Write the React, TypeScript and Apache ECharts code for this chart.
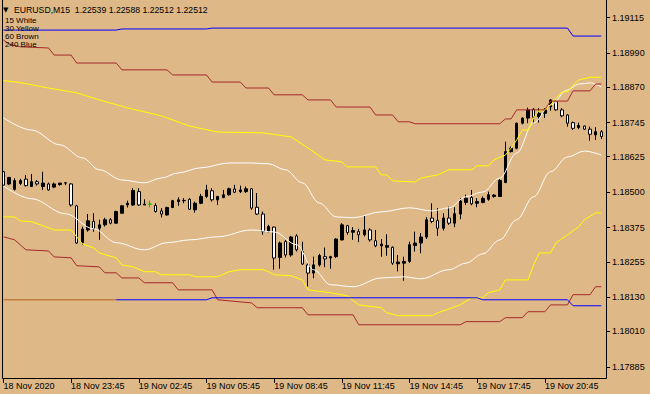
import React, { useEffect, useRef } from "react";
import * as echarts from "echarts";

// ---- candle data (EURUSD M15), index 0 = 18 Nov 20:45 ----
const opens = [
  1.18572, 1.18529, 1.18510, 1.18531, 1.18546, 1.18520, 1.18537, 1.18520, 1.18529, 1.18518,
  1.18527, 1.18532, 1.18529, 1.18452, 1.18323, 1.18367, 1.18397, 1.18373, 1.18385, 1.18403,
  1.18391, 1.18426, 1.18455, 1.18455, 1.18502, 1.18455, 1.18458, 1.18453, 1.18434, 1.18420,
  1.18446, 1.18467, 1.18470, 1.18475, 1.18438, 1.18461, 1.18485, 1.18505, 1.18473, 1.18481,
  1.18491, 1.18511, 1.18502, 1.18502, 1.18512, 1.18447, 1.18423, 1.18361, 1.18377, 1.18270,
  1.18326, 1.18279, 1.18346, 1.18291, 1.18244, 1.18215, 1.18244, 1.18273, 1.18268, 1.18273,
  1.18332, 1.18382, 1.18359, 1.18361, 1.18350, 1.18367, 1.18329, 1.18311, 1.18306, 1.18306,
  1.18248, 1.18250, 1.18256, 1.18312, 1.18321, 1.18342, 1.18409, 1.18400, 1.18373, 1.18409,
  1.18391, 1.18423, 1.18464, 1.18482, 1.18461, 1.18464, 1.18475, 1.18485, 1.18485, 1.18534,
  1.18643, 1.18655, 1.18743, 1.18761, 1.18792, 1.18766, 1.18778, 1.18801, 1.18819, 1.18790,
  1.18772, 1.18745, 1.18728, 1.18733, 1.18722, 1.18702, 1.18713,
];
const closes = [
  1.18525, 1.18552, 1.18541, 1.18541, 1.18523, 1.18537, 1.18529, 1.18532, 1.18508, 1.18529,
  1.18532, 1.18533, 1.18455, 1.18321, 1.18370, 1.18399, 1.18371, 1.18385, 1.18403, 1.18391,
  1.18432, 1.18452, 1.18461, 1.18506, 1.18455, 1.18458, 1.18458, 1.18432, 1.18423, 1.18446,
  1.18470, 1.18473, 1.18471, 1.18440, 1.18461, 1.18485, 1.18508, 1.18473, 1.18485, 1.18491,
  1.18512, 1.18500, 1.18508, 1.18512, 1.18444, 1.18423, 1.18361, 1.18379, 1.18268, 1.18321,
  1.18279, 1.18342, 1.18297, 1.18247, 1.18215, 1.18244, 1.18277, 1.18265, 1.18273, 1.18335,
  1.18385, 1.18358, 1.18365, 1.18350, 1.18367, 1.18332, 1.18311, 1.18317, 1.18312, 1.18250,
  1.18254, 1.18256, 1.18315, 1.18321, 1.18342, 1.18403, 1.18397, 1.18373, 1.18409, 1.18391,
  1.18424, 1.18469, 1.18479, 1.18459, 1.18467, 1.18478, 1.18491, 1.18490, 1.18541, 1.18643,
  1.18655, 1.18743, 1.18761, 1.18790, 1.18764, 1.18778, 1.18790, 1.18825, 1.18790, 1.18769,
  1.18743, 1.18725, 1.18735, 1.18722, 1.18704, 1.18713, 1.18696,
];
const highs = [
  1.18575, 1.18554, 1.18549, 1.18547, 1.18561, 1.18564, 1.18543, 1.18572, 1.18534, 1.18534,
  1.18533, 1.18536, 1.18532, 1.18455, 1.18379, 1.18423, 1.18426, 1.18403, 1.18410, 1.18409,
  1.18435, 1.18455, 1.18470, 1.18514, 1.18514, 1.18475, 1.18470, 1.18461, 1.18444, 1.18449,
  1.18473, 1.18482, 1.18479, 1.18479, 1.18467, 1.18494, 1.18526, 1.18514, 1.18487, 1.18508,
  1.18516, 1.18526, 1.18523, 1.18520, 1.18514, 1.18497, 1.18432, 1.18385, 1.18379, 1.18326,
  1.18332, 1.18346, 1.18352, 1.18326, 1.18254, 1.18273, 1.18283, 1.18305, 1.18276, 1.18338,
  1.18391, 1.18385, 1.18377, 1.18371, 1.18417, 1.18373, 1.18367, 1.18335, 1.18352, 1.18309,
  1.18279, 1.18273, 1.18326, 1.18361, 1.18356, 1.18412, 1.18461, 1.18444, 1.18426, 1.18449,
  1.18447, 1.18479, 1.18491, 1.18508, 1.18479, 1.18485, 1.18502, 1.18493, 1.18546, 1.18678,
  1.18661, 1.18745, 1.18764, 1.18798, 1.18796, 1.18796, 1.18796, 1.18828, 1.18822, 1.18796,
  1.18775, 1.18749, 1.18745, 1.18735, 1.18731, 1.18729, 1.18719,
];
const lows = [
  1.18522, 1.18525, 1.18506, 1.18525, 1.18520, 1.18519, 1.18523, 1.18508, 1.18506, 1.18514,
  1.18523, 1.18525, 1.18449, 1.18318, 1.18315, 1.18361, 1.18361, 1.18332, 1.18379, 1.18387,
  1.18389, 1.18424, 1.18446, 1.18452, 1.18452, 1.18455, 1.18447, 1.18428, 1.18411, 1.18417,
  1.18444, 1.18452, 1.18461, 1.18438, 1.18428, 1.18458, 1.18479, 1.18467, 1.18455, 1.18479,
  1.18488, 1.18497, 1.18497, 1.18497, 1.18438, 1.18420, 1.18350, 1.18359, 1.18227, 1.18230,
  1.18270, 1.18273, 1.18291, 1.18244, 1.18168, 1.18197, 1.18238, 1.18236, 1.18230, 1.18268,
  1.18330, 1.18350, 1.18332, 1.18324, 1.18344, 1.18326, 1.18306, 1.18273, 1.18276, 1.18244,
  1.18221, 1.18188, 1.18251, 1.18291, 1.18285, 1.18335, 1.18391, 1.18346, 1.18365, 1.18385,
  1.18377, 1.18405, 1.18455, 1.18454, 1.18447, 1.18461, 1.18470, 1.18481, 1.18483, 1.18532,
  1.18640, 1.18651, 1.18739, 1.18743, 1.18743, 1.18745, 1.18761, 1.18787, 1.18787, 1.18764,
  1.18731, 1.18719, 1.18722, 1.18719, 1.18681, 1.18684, 1.18687,
];

// ---- indicator bands: [bar index, price] ----
const whiteUpper = [
  [0, 1.18762], [5, 1.18719], [10, 1.18667], [14, 1.18621], [17, 1.18579], [21, 1.18543],
  [25, 1.18533], [28, 1.1855], [31, 1.18568], [35, 1.18586], [40, 1.18603], [44, 1.18603],
  [47, 1.186], [50, 1.18579], [53, 1.18533], [56, 1.18462], [59, 1.18413], [62, 1.1841],
  [67, 1.18431], [72, 1.18445], [76, 1.18434], [79, 1.18445], [82, 1.18484], [85, 1.18501],
  [88, 1.1855], [91, 1.18638], [94, 1.18744], [97, 1.18807], [100, 1.1886], [102, 1.18881],
  [104, 1.18885], [106, 1.18871],
];
const whiteLower = [
  [0, 1.18522], [5, 1.18477], [11, 1.18424], [16, 1.18371], [20, 1.18322], [25, 1.18297],
  [29, 1.18322], [33, 1.18332], [38, 1.18343], [44, 1.18367], [48, 1.1836], [52, 1.18315],
  [55, 1.18227], [58, 1.18174], [62, 1.18167], [67, 1.18198], [71, 1.18202], [74, 1.18195],
  [79, 1.18227], [82, 1.1825], [85, 1.18283], [88, 1.18332], [91, 1.18403], [94, 1.18484],
  [97, 1.18572], [100, 1.18624], [103, 1.18645], [106, 1.18631],
];
const yellowUpper = [
  [0, 1.18893], [3, 1.18886], [8, 1.18867], [13, 1.1885], [17, 1.18825], [22, 1.18797],
  [28, 1.18769], [33, 1.18733], [38, 1.18712], [46, 1.18709], [51, 1.18695], [54, 1.18656],
  [57, 1.18614], [60, 1.18607], [61, 1.18589], [66, 1.18589], [67, 1.18561], [68, 1.18561],
  [69, 1.1854], [73, 1.18536], [74, 1.1855], [77, 1.18561], [79, 1.18579], [83, 1.18579],
  [84, 1.18593], [86, 1.18593], [87, 1.18614], [89, 1.18631], [90, 1.18655], [91, 1.18684],
  [92, 1.18719], [93, 1.18719], [94, 1.18761], [95, 1.18789], [96, 1.18789], [97, 1.18807],
  [98, 1.18831], [99, 1.18853], [100, 1.18853], [101, 1.18877], [102, 1.18895], [104, 1.18905],
  [106, 1.18905],
];
const yellowLower = [
  [0, 1.18413], [2, 1.18413], [3, 1.18399], [5, 1.18396], [7, 1.18382], [9, 1.18367],
  [12, 1.18367], [13, 1.18343], [14, 1.18318], [16, 1.18304], [17, 1.18286], [20, 1.18269],
  [21, 1.18244], [23, 1.18237], [25, 1.1822], [27, 1.1822], [28, 1.18209], [33, 1.18209],
  [34, 1.18202], [38, 1.18202], [40, 1.1822], [42, 1.18227], [46, 1.18227], [47, 1.1822],
  [48, 1.18209], [51, 1.18206], [53, 1.18191], [54, 1.18156], [58, 1.18146], [61, 1.18135],
  [63, 1.18103], [67, 1.18093], [68, 1.18075], [70, 1.18065], [76, 1.18065], [77, 1.18075],
  [81, 1.18103], [83, 1.18128], [85, 1.18128], [86, 1.18146], [88, 1.18156], [89, 1.18191],
  [93, 1.18191], [94, 1.18244], [95, 1.18286], [97, 1.18286], [98, 1.18322], [100, 1.1835],
  [102, 1.18378], [103, 1.18403], [105, 1.18427], [106, 1.18427],
];
const brownUpper = [
  [0, 1.19036], [1, 1.19022], [3, 1.19012], [8, 1.19008], [9, 1.18983], [12, 1.18983],
  [13, 1.18955], [20, 1.18955], [21, 1.18931], [29, 1.18931], [30, 1.18913], [36, 1.18913],
  [37, 1.18888], [42, 1.18888], [43, 1.18867], [47, 1.18867], [48, 1.18843], [53, 1.18843],
  [54, 1.18825], [58, 1.18825], [59, 1.188], [65, 1.188], [66, 1.18772], [69, 1.18772],
  [70, 1.18748], [72, 1.18748], [73, 1.18741], [88, 1.18741], [89, 1.18758], [90, 1.18758],
  [91, 1.1879], [96, 1.1879], [97, 1.18821], [100, 1.18821], [101, 1.18857], [104, 1.18857],
  [105, 1.18881], [106, 1.18881],
];
const brownLower = [
  [0, 1.18343], [2, 1.18332], [4, 1.18297], [8, 1.18293], [9, 1.18272], [12, 1.18269],
  [13, 1.18241], [17, 1.18237], [18, 1.18216], [20, 1.18216], [21, 1.18198], [24, 1.18198],
  [25, 1.18181], [30, 1.18181], [31, 1.18156], [37, 1.18156], [38, 1.18121], [44, 1.1811],
  [45, 1.18093], [53, 1.18093], [54, 1.18068], [62, 1.18068], [63, 1.18033], [81, 1.18033],
  [82, 1.18044], [88, 1.18044], [89, 1.18058], [92, 1.18058], [93, 1.18079], [96, 1.18079],
  [97, 1.18103], [100, 1.18103], [101, 1.18139], [104, 1.18139], [105, 1.18167], [106, 1.18167],
];
const blueUpper = [
  [0, 1.19071], [20, 1.19071], [21, 1.19075], [36, 1.19075], [37, 1.19078], [100, 1.19078],
  [101, 1.1905], [106, 1.1905],
];
const blueLower = [
  [0, 1.18121], [20, 1.18121], [36, 1.18121], [37, 1.18128], [84, 1.18128], [85, 1.18121],
  [100, 1.18121], [101, 1.181], [106, 1.181],
];

const xTickLabels = [
  "18 Nov 2020", "18 Nov 23:45", "19 Nov 02:45", "19 Nov 05:45", "19 Nov 08:45",
  "19 Nov 11:45", "19 Nov 14:45", "19 Nov 17:45", "19 Nov 20:45",
];
const yTickLabels = [
  "1.17885", "1.18010", "1.18130", "1.18255", "1.18375", "1.18500",
  "1.18625", "1.18745", "1.18870", "1.18990", "1.19115",
];
const legendLines = ["15 White", "30 Yellow", "60 Brown", "240 Blue"];
const headerText = "EURUSD,M15  1.22539 1.22588 1.22512 1.22512";

const categories: string[] = [];
for (let i = 0; i < opens.length; i++) {
  const mins = 20 * 60 + 45 + 15 * i;
  const day = 18 + Math.floor(mins / 1440);
  const m = mins % 1440;
  const hh = String(Math.floor(m / 60)).padStart(2, "0");
  const mm = String(m % 60).padStart(2, "0");
  categories.push(`${day} Nov ${hh}:${mm}`);
}

const FONT = "Liberation Sans";

export default function App() {
  const ref = useRef<HTMLDivElement>(null);
  useEffect(() => {
    document.body.style.margin = "0";
    const chart = echarts.init(ref.current!, null, { renderer: "svg" });
    const candles = opens.map((o, i) => [o, closes[i], lows[i], highs[i]]);
    const line = (name: string, data: number[][], color: string, smooth = false) => ({
      name,
      type: "line",
      data,
      showSymbol: false,
      smooth: smooth ? 0.35 : false,
      smoothMonotone: "x",
      lineStyle: { color, width: 1 },
      itemStyle: { color },
      silent: true,
      z: 3,
    });
    chart.setOption({
      animation: false,
      backgroundColor: "#DEB887",
      grid: { left: 0.58, right: 45.9, top: 0, bottom: 15, containLabel: false, outerBoundsMode: "none" },
      xAxis: {
        type: "category",
        data: categories,
        boundaryGap: true,
        axisLine: { show: false },
        axisTick: { show: true, interval: 11, alignWithLabel: true, length: 4, lineStyle: { color: "#000" } },
        axisLabel: {
          interval: 11,
          align: "left",
          margin: 2,
          color: "#000",
          fontFamily: FONT,
          fontSize: 9,
          lineHeight: 10,
          formatter: (_v: string, idx: number) => xTickLabels[Math.round(idx / 12)] ?? "",
        },
        splitLine: { show: false },
      },
      yAxis: {
        type: "value",
        position: "right",
        offset: 2,
        min: 1.17842,
        max: 1.19177,
        axisLine: { show: false },
        axisTick: {
          show: true,
          length: 4,
          customValues: yTickLabels.map(Number),
          lineStyle: { color: "#000" },
        },
        axisLabel: {
          customValues: yTickLabels.map(Number),
          margin: 6,
          color: "#000",
          fontFamily: FONT,
          fontSize: 9,
          formatter: (v: number) => v.toFixed(5),
        },
        splitLine: { show: false },
      },
      series: [
        {
          name: "EURUSD",
          type: "candlestick",
          data: candles,
          barWidth: 3,
          silent: true,
          z: 2,
          itemStyle: {
            color: "#000000",
            color0: "#ffffff",
            borderColor: "#000000",
            borderColor0: "#000000",
            borderColorDoji: "#00c000",
            borderWidth: 1,
          },
        },
        line("15 White upper", whiteUpper, "#ffffff", true),
        line("15 White lower", whiteLower, "#ffffff", true),
        line("30 Yellow upper", yellowUpper, "#ffff00"),
        line("30 Yellow lower", yellowLower, "#ffff00"),
        line("60 Brown upper", brownUpper, "#a52a2a"),
        line("60 Brown lower", brownLower, "#a52a2a"),
        line("240 Blue upper", blueUpper, "#0000ff"),
        line("240 Blue lower (left)", blueLower.filter((p) => p[0] <= 20), "#b8601e"),
        line("240 Blue lower", blueLower.filter((p) => p[0] >= 20), "#0000ff"),
      ],
      graphic: [
        {
          type: "polyline",
          silent: true,
          z: 10,
          shape: { points: [[2.5, 0], [2.5, 378.5], [606.5, 378.5], [606.5, 0]] },
          style: { stroke: "#000", fill: "none", lineWidth: 1 },
        },
        {
          type: "text",
          x: 3,
          y: 10,
          z: 11,
          style: { text: "▼", fill: "#000", fontSize: 7, fontFamily: "DejaVu Sans", verticalAlign: "middle" },
        },
        {
          type: "text",
          x: 14,
          y: 10,
          z: 11,
          style: { text: headerText, fill: "#000", fontSize: 8.7, fontFamily: FONT, verticalAlign: "middle", lineHeight: 9 },
        },
        ...legendLines.map((t, i) => ({
          type: "text",
          x: 5,
          y: 20 + i * 8.2,
          z: 11,
          style: { text: t, fill: "#000", fontSize: 8, lineHeight: 8, fontFamily: FONT, verticalAlign: "middle" },
        })),
      ],
    });
    return () => chart.dispose();
  }, []);
  return (
    <div
      ref={ref}
      style={{ position: "fixed", left: 0, top: 0, width: 650, height: 394, background: "#DEB887" }}
    />
  );
}
